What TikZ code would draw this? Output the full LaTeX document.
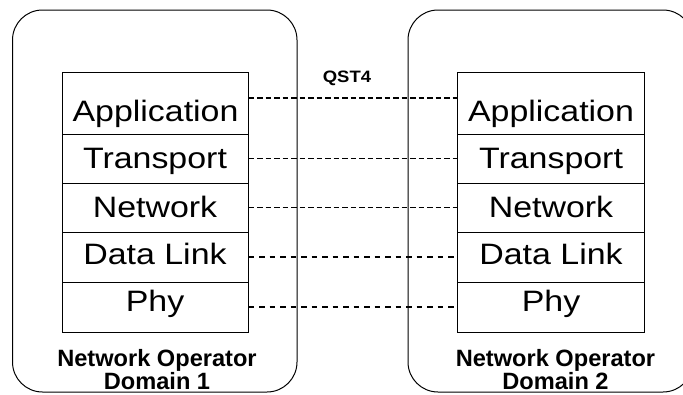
\documentclass[tikz,border=0pt]{standalone}
\usepackage{fontspec}
\setmainfont{Liberation Sans}
\newfontfamily\stackfont[FakeStretch=1.15]{Liberation Sans}
\newfontfamily\qstfont[FakeStretch=1.12]{Liberation Sans Bold}
\newfontfamily\domfont{Liberation Sans Bold}
\begin{document}
\begin{tikzpicture}[x=1pt,y=-1pt,
  domainbox/.style={draw,line width=1pt,rounded corners=30pt},
  layerbox/.style={draw,line width=1pt,rectangle,inner sep=0pt},
  layertext/.style={anchor=base,inner sep=0pt,font=\stackfont\fontsize{29.5}{32}\selectfont},
  domtext/.style={anchor=base,inner sep=0pt,align=center,font=\domfont\fontsize{23.6}{21}\selectfont},
  peerlink/.style={line width=1.8pt,dash pattern=on 5.5pt off 3pt},
  peerlinklow/.style={line width=2.8pt,dash pattern=on 5.5pt off 5pt}]
\useasboundingbox (0,0) rectangle (683,394);
\clip (0,0) rectangle (683,394);
% outer domain boxes
\draw[domainbox] (12.5,10) rectangle (297,392);
\draw[domainbox] (408,10) rectangle (693,392);
% left stack
\node[layerbox,minimum width=186pt,minimum height=62pt] (la) at (155,103) {};
\node[layerbox,minimum width=186pt,minimum height=49pt] (lt) at (155,158.5) {};
\node[layerbox,minimum width=186pt,minimum height=49pt] (ln) at (155,207.5) {};
\node[layerbox,minimum width=186pt,minimum height=50pt] (ld) at (155,257) {};
\node[layerbox,minimum width=186pt,minimum height=50pt] (lp) at (155,307) {};
% right stack
\node[layerbox,minimum width=187pt,minimum height=62pt] (ra) at (550.5,103) {};
\node[layerbox,minimum width=187pt,minimum height=49pt] (rt) at (550.5,158.5) {};
\node[layerbox,minimum width=187pt,minimum height=49pt] (rn) at (550.5,207.5) {};
\node[layerbox,minimum width=187pt,minimum height=50pt] (rd) at (550.5,257) {};
\node[layerbox,minimum width=187pt,minimum height=50pt] (rp) at (550.5,307) {};
% layer labels
\node[layertext] (lat) at (155.5,121) {Application};
\node[layertext] (ltt) at (155,168) {Transport};
\node[layertext] (lnt) at (155,217) {Network};
\node[layertext] (ldt) at (155,264) {Data Link};
\node[layertext] (lpt) at (155,311) {Phy};
\node[layertext] (rat) at (551,121) {Application};
\node[layertext] (rtt) at (551,168) {Transport};
\node[layertext] (rnt) at (551,217) {Network};
\node[layertext] (rdt) at (551,264) {Data Link};
\node[layertext] (rpt) at (551,311) {Phy};
% peer connections
\draw[peerlink] ([yshift=5pt]la.east) -- ([yshift=5pt]ra.west);
\draw[peerlink] (lt.east) -- (rt.west);
\draw[peerlink] (ln.east) -- (rn.west);
\draw[peerlinklow] (ld.east) -- (rd.west);
\draw[peerlinklow] (lp.east) -- (rp.west);
\node[anchor=base,inner sep=0pt,font=\qstfont\fontsize{16.5}{18}\selectfont] (qst) at (347,82) {QST4};
% domain labels
\node[domtext] (ld1) at (157,389) {Network Operator\\Domain 1};
\node[domtext] (rd2) at (555.5,389) {Network Operator\\Domain 2};
\end{tikzpicture}
\end{document}
